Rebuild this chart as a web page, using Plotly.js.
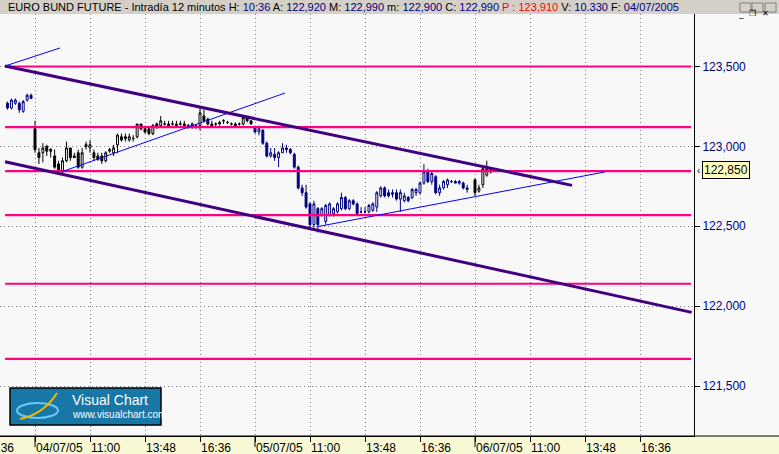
<!DOCTYPE html>
<html><head><meta charset="utf-8">
<script src="https://cdn.plot.ly/plotly-3.0.1.min.js"></script>
<style>html,body{margin:0;padding:0;background:#f8f8f8;overflow:hidden}#chart{width:779px;height:454px}</style>
</head><body><div id="chart"></div>
<script>
// ---- DATA (12-minute bars; bar index 0 = first bar of 04/07/05) ----
const firstBar = -7;
const open  = [123.27,123.24,123.27,123.27,123.22,123.29,123.32,
 123.11,122.96,122.96,123.00,122.98,122.94,122.89,122.84,122.91,122.99,122.94,122.96,122.87,123.01,122.99,122.96,122.94,122.94,122.91,122.97,122.96,123.01,123.06,123.06,123.04,123.05,123.06,123.14,123.11,123.11,123.08,123.14,123.13,123.14,123.14,123.14,123.13,123.14,123.14,123.13,123.12,123.13,123.13,123.19,123.17,123.14,123.14,123.14,123.16,123.15,123.14,123.14,123.14,123.14,123.18,123.16,
 123.12,123.09,123.10,123.02,122.94,122.95,122.93,122.96,122.99,122.98,122.95,122.87,122.74,122.71,122.64,122.51,122.61,122.57,122.53,122.57,122.58,122.59,122.61,122.68,122.61,122.66,122.64,122.59,122.59,122.59,122.60,122.62,122.69,122.74,122.71,122.71,122.71,122.67,122.66,122.68,122.68,122.71,122.71,122.77,122.84,122.78,122.81,122.71,122.74,122.76,122.78,122.78,122.77,122.77,122.73,null,
 122.79,122.72,122.76,122.82,122.86,122.85];
const high  = [123.28,123.30,123.30,123.28,123.29,123.33,123.33,
 123.16,122.99,123.02,123.01,122.99,122.98,122.91,122.93,123.03,122.99,122.96,122.98,122.99,123.03,123.04,122.98,122.96,122.96,122.97,122.99,123.01,123.08,123.08,123.08,123.08,123.07,123.14,123.14,123.13,123.12,123.14,123.15,123.19,123.16,123.16,123.16,123.16,123.16,123.16,123.14,123.15,123.14,123.24,123.23,123.18,123.16,123.15,123.16,123.17,123.16,123.15,123.15,123.15,123.18,123.19,123.16,
 123.13,123.13,123.11,123.03,122.99,122.99,122.97,123.02,123.01,122.99,122.96,122.88,122.76,122.76,122.65,122.66,122.62,122.62,122.64,122.65,122.62,122.65,122.71,122.69,122.67,122.67,122.65,122.62,122.62,122.64,122.65,122.72,122.75,122.75,122.73,122.73,122.73,122.73,122.71,122.69,122.74,122.74,122.78,122.89,122.86,122.84,122.82,122.76,122.79,122.80,122.79,122.79,122.79,122.78,122.76,null,
 122.80,122.76,122.88,122.91,122.87,122.86];
const low   = [123.23,123.23,123.26,123.21,123.21,123.28,123.30,
 122.96,122.89,122.90,122.94,122.93,122.86,122.84,122.83,122.90,122.91,122.93,122.86,122.86,122.98,122.96,122.91,122.91,122.89,122.90,122.96,122.94,122.96,123.03,123.03,123.03,123.03,123.05,123.10,123.08,123.07,123.07,123.11,123.12,123.13,123.12,123.13,123.12,123.13,123.12,123.11,123.11,123.11,123.10,123.15,123.13,123.12,123.12,123.13,123.14,123.14,123.13,123.12,123.13,123.13,123.15,123.14,
 123.08,123.07,123.01,122.93,122.93,122.91,122.87,122.96,122.96,122.95,122.86,122.73,122.69,122.61,122.49,122.49,122.46,122.56,122.51,122.56,122.56,122.58,122.60,122.60,122.60,122.63,122.57,122.58,122.58,122.58,122.59,122.59,122.68,122.68,122.68,122.68,122.66,122.59,122.65,122.65,122.67,122.69,122.70,122.76,122.77,122.76,122.70,122.69,122.73,122.74,122.77,122.77,122.76,122.73,122.71,null,
 122.69,122.71,122.74,122.81,122.83,122.84];
const close = [123.24,123.29,123.29,123.23,123.28,123.32,123.30,
 122.98,122.93,122.99,122.97,122.97,122.87,122.85,122.91,122.99,122.93,122.93,122.87,122.96,123.00,123.01,122.93,122.92,122.91,122.96,122.98,122.99,123.07,123.04,123.05,123.06,123.05,123.14,123.11,123.09,123.08,123.13,123.12,123.16,123.14,123.13,123.14,123.14,123.14,123.13,123.12,123.14,123.13,123.21,123.16,123.14,123.13,123.14,123.15,123.16,123.15,123.14,123.13,123.14,123.18,123.16,123.14,
 123.09,123.11,123.02,122.94,122.96,122.93,122.96,122.99,122.98,122.96,122.87,122.74,122.71,122.62,122.51,122.64,122.51,122.61,122.63,122.64,122.61,122.64,122.68,122.61,122.66,122.64,122.58,122.59,122.59,122.63,122.64,122.71,122.74,122.69,122.69,122.70,122.67,122.71,122.69,122.66,122.73,122.73,122.77,122.84,122.78,122.83,122.71,122.74,122.78,122.79,122.78,122.77,122.78,122.74,122.74,null,
 122.71,122.74,122.86,122.86,122.84,122.85];
// sessions: first bar index of each session and its colour
const sessionStart = [-7, 0, 56, 112];
const sessionColor = ['#000080', '#000000', '#000080', '#000000'];

// x-axis ticks (bar index) and labels
const tickBars = [-14, 0, 14, 28, 42, 56, 70, 84, 98, 112, 126, 140, 154];
const tickText = ['16:36','04/07/05','11:00','13:48','16:36','05/07/05','11:00','13:48','16:36','06/07/05','11:00','13:48','16:36'];
const dayTicks = [0, 56, 112];
const priceTicks = [121.5, 122.0, 122.5, 123.0, 123.5];

// horizontal support / resistance levels
const levels = [123.50, 123.12, 122.845, 122.57, 122.14, 121.67];
const levelFrom = -7.6, levelTo = 167.0;
// trend lines (bar index, price)
const chanUpX = [-7.64, 136.7],  chanUpY = [123.503, 122.756];
const chanLoX = [-7.64, 167.15], chanLoY = [122.904, 121.961];
const blueAX = [-7.64, 6.36],    blueAY = [123.503, 123.616];
const blueBX = [6.80, 63.64],    blueBY = [122.841, 123.334];
const blueCX = [72.04, 145.09],  blueCY = [122.498, 122.840];
const lastPrice = 122.85;

// ---- LAYOUT GEOMETRY ----
const W = 779, H = 454, mT = 14, mB = 18, mR = 85, mL = 0;
const PW = W - mL - mR, PH = H - mT - mB;
const pxPerBar = 55 / 14;
const xMin = -35 / pxPerBar, xMax = xMin + PW / pxPerBar;
const pxPerPt = 159.75;
const yMax = 123.5 + (66.5 - mT) / pxPerPt, yMin = 123.5 - (H - mB - 66.5) / pxPerPt;
const px = p => p / PW;                 // pixel x -> paper
const py = p => (H - mB - p) / PH;      // pixel y -> paper
const barToPx = b => (b - xMin) * pxPerBar;

// ---- TRACES ----
const traces = [];
const lineTrace = (x, y, color, width) => ({type:'scatter', mode:'lines', x, y, line:{color, width}, hoverinfo:'skip', showlegend:false, cliponaxis:true});
levels.forEach(l => traces.push(lineTrace([levelFrom, levelTo], [l, l], '#ff0080', 2.2)));
traces.push(lineTrace(blueAX, blueAY, '#0000ff', 1));
traces.push(lineTrace(blueBX, blueBY, '#0000ff', 1));
traces.push(lineTrace(blueCX, blueCY, '#0000ff', 1));
traces.push(lineTrace(chanUpX, chanUpY, '#400080', 3));
traces.push(lineTrace(chanLoX, chanLoY, '#400080', 3));

['#000080', '#000000'].forEach(col => {
  const t = {type:'candlestick', x:[], open:[], high:[], low:[], close:[],
    increasing:{line:{color:col, width:1}, fillcolor:'#ffffff'},
    decreasing:{line:{color:col, width:1}, fillcolor:col},
    whiskerwidth:0, hoverinfo:'skip', showlegend:false};
  for (let k = 0; k < open.length; k++) {
    if (open[k] === null) continue;
    const bar = firstBar + k;
    let s = 0;
    for (let j = 0; j < sessionStart.length; j++) if (bar >= sessionStart[j]) s = j;
    if (sessionColor[s] !== col) continue;
    t.x.push(bar); t.open.push(open[k]); t.high.push(high[k]); t.low.push(low[k]); t.close.push(close[k]);
  }
  traces.push(t);
});

// ---- SHAPES / ANNOTATIONS ----
const shapes = [
  // title bar
  {type:'rect', xref:'paper', yref:'paper', x0:0, x1:W/PW, y0:1, y1:py(0), fillcolor:'#d4d0c8', line:{width:0}, layer:'below'},
  // bottom time-axis panel
  {type:'rect', xref:'paper', yref:'paper', x0:0, x1:W/PW, y0:py(H), y1:0, fillcolor:'#f8f8d4', line:{width:0}, layer:'below'},
  {type:'line', xref:'paper', yref:'paper', x0:0, x1:W/PW, y0:0, y1:0, line:{color:'#000', width:1}},
  // logo box
  {type:'rect', xref:'paper', yref:'paper', x0:px(10), x1:px(161), y0:py(425), y1:py(388), fillcolor:'#1777a6', line:{color:'#000', width:1.5}},
  {type:'circle', xref:'paper', yref:'paper', x0:px(17), x1:px(58), y0:py(418), y1:py(403), line:{color:'#6cc8f4', width:2}},
  {type:'path', xref:'paper', yref:'paper', path:`M ${px(20)} ${py(419)} Q ${px(44)} ${py(414)} ${px(57)} ${py(393)}`, line:{color:'#f5b800', width:2}},
  // window buttons
  {type:'rect', xref:'paper', yref:'paper', x0:px(740), x1:px(751), y0:py(12), y1:py(3), fillcolor:'#d4d0c8', line:{color:'#808080', width:1}},
  {type:'rect', xref:'paper', yref:'paper', x0:px(752), x1:px(763), y0:py(12), y1:py(3), fillcolor:'#d4d0c8', line:{color:'#808080', width:1}},
  {type:'rect', xref:'paper', yref:'paper', x0:px(765), x1:px(776), y0:py(12), y1:py(3), fillcolor:'#d4d0c8', line:{color:'#808080', width:1}}
];
dayTicks.forEach(d => shapes.push({type:'line', xref:'x', yref:'paper', x0:d, x1:d, y0:0, y1:py(447), line:{color:'#000', width:1}}));

const navy = '#000080';
const sp = (c, t) => `<span style="color:${c}">${t}</span>`;
const titleText = 'EURO BUND FUTURE - Intradía 12 minutos H: ' + sp(navy,'10:36') + ' A: ' + sp(navy,'122,920') +
  ' M: ' + sp(navy,'122,990') + ' m: ' + sp(navy,'122,900') + ' C: ' + sp(navy,'122,990') + ' ' +
  sp('#ff0000','P : 123,910') + ' V: ' + sp(navy,'10.330') + ' F: ' + sp(navy,'04/07/2005');

const annotations = [
  {xref:'paper', yref:'paper', x:px(6), y:py(7.5), xanchor:'left', yanchor:'middle', showarrow:false, text:titleText,
   font:{family:'Liberation Sans, Arial, sans-serif', size:11, color:'#000'}},
  // partially visible previous-session label (tick lies left of the plot)
  {xref:'paper', yref:'paper', x:px(barToPx(tickBars[0]) + 2), y:py(439), xanchor:'left', yanchor:'top', showarrow:false, text:tickText[0],
   font:{family:'Liberation Sans, Arial, sans-serif', size:12, color:'#000'}},
  // last price marker
  {xref:'paper', yref:'y', x:1, y:lastPrice, xanchor:'left', yanchor:'middle', xshift:8, showarrow:false,
   text:lastPrice.toFixed(3).replace('.', ','), bgcolor:'#ffffc0', bordercolor:'#000', borderwidth:1, borderpad:1,
   font:{family:'Liberation Sans, Arial, sans-serif', size:12, color:'#000'}},
  {xref:'paper', yref:'y', x:1, y:lastPrice, xanchor:'left', yanchor:'middle', xshift:1, showarrow:false, text:'‹',
   font:{family:'Liberation Sans, Arial, sans-serif', size:10, color:'#000'}},
  // logo text
  {xref:'paper', yref:'paper', x:px(70), y:py(400), xanchor:'left', yanchor:'middle', showarrow:false, text:'Visual Chart',
   font:{family:'Liberation Sans, Arial, sans-serif', size:14, color:'#ffffff'}},
  {xref:'paper', yref:'paper', x:px(70), y:py(414), xanchor:'left', yanchor:'middle', showarrow:false, text:'www.visualchart.com',
   font:{family:'Liberation Sans, Arial, sans-serif', size:10, color:'#ffffff'}},
  // window button glyphs
  {xref:'paper', yref:'paper', x:px(745.5), y:py(7.5), showarrow:false, text:'_', font:{size:9, color:'#000', family:'DejaVu Sans'}},
  {xref:'paper', yref:'paper', x:px(757.5), y:py(7.5), showarrow:false, text:'❐', font:{size:8, color:'#000', family:'DejaVu Sans'}},
  {xref:'paper', yref:'paper', x:px(770.5), y:py(7.5), showarrow:false, text:'✕', font:{size:8, color:'#000', family:'DejaVu Sans'}}
];

const layout = {
  width: W, height: H,
  margin: {l:mL, r:mR, t:mT, b:mB, pad:0},
  paper_bgcolor: '#f8f8f8', plot_bgcolor: '#f8f8f8',
  separators: ',.',
  showlegend: false,
  font: {family:'Liberation Sans, Arial, sans-serif', size:12, color:'#000'},
  xaxis: {
    range: [xMin, xMax], tickvals: tickBars, ticktext: tickText,
    showgrid: true, gridcolor: '#808080', griddash: '1px,3px', gridwidth: 1,
    zeroline: false, showline: true, linecolor: '#000', linewidth: 1,
    ticks: 'outside', ticklen: 5, tickcolor: '#000', tickwidth: 1,
    ticklabelposition: 'outside right', ticklabelstandoff: 1, tickfont: {size:12, color:'#000'},
    rangeslider: {visible:false}, fixedrange: true
  },
  yaxis: {
    range: [yMin, yMax], side: 'right', tickvals: priceTicks, tickformat: '.3f',
    showgrid: true, gridcolor: '#808080', griddash: '1px,3px', gridwidth: 1,
    zeroline: false, showline: true, linecolor: '#000', linewidth: 1,
    ticks: 'outside', ticklen: 5, tickcolor: '#000', tickwidth: 1,
    tickfont: {size:12, color:navy}, fixedrange: true
  },
  shapes, annotations
};

Plotly.newPlot('chart', traces, layout, {staticPlot:true, displayModeBar:false});
</script>
</body></html>
